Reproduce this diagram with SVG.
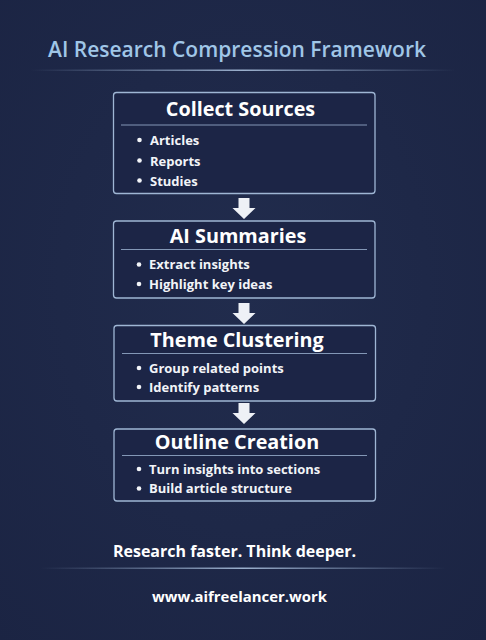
<svg xmlns="http://www.w3.org/2000/svg" width="486" height="640" viewBox="0 0 486 640">
<defs>
<radialGradient id="bg" cx="50%" cy="45%" r="75%">
<stop offset="0" stop-color="#212c4d"/>
<stop offset="1" stop-color="#1b2443"/>
</radialGradient>
<linearGradient id="rule" x1="0" x2="1" y1="0" y2="0">
<stop offset="0" stop-color="#8fa6c6" stop-opacity="0"/>
<stop offset="0.5" stop-color="#a9bfdc" stop-opacity="0.9"/>
<stop offset="1" stop-color="#8fa6c6" stop-opacity="0"/>
</linearGradient>
<style>
.box{fill:#1c2546;stroke:#9fb6d4;stroke-width:1.3}
.div{stroke:#8397b6;stroke-width:1}
.h{font-family:"Open Sans",Lato,sans-serif;font-weight:700;font-size:19.8px;fill:#ffffff;text-anchor:middle}
.b{font-family:"Open Sans",Lato,sans-serif;font-weight:700;font-size:13px;fill:#f2f4f8}
.dot{fill:#f2f4f8}
.arr{fill:#eef1f6}
</style>
</defs>
<rect width="486" height="640" fill="url(#bg)"/>
<text x="237" y="57" font-family="'Open Sans',Lato,sans-serif" font-weight="600" font-size="21" fill="#a0c6e7" text-anchor="middle">AI Research Compression Framework</text>
<rect x="30" y="69.5" width="426" height="1.5" fill="url(#rule)"/>

<g id="connectors">
<path class="arr" d="M238.5 198 h11 v10 h6 l-11.5 11 l-11.5 -11 h6 z"/>
<path class="arr" d="M238.5 303 h11 v10 h6 l-11.5 11 l-11.5 -11 h6 z"/>
<path class="arr" d="M238.5 403 h11 v10 h6 l-11.5 11 l-11.5 -11 h6 z"/>
</g>

<g id="collect">
<rect class="box" x="113.5" y="92.5" width="261.5" height="101" rx="3"/>
<text class="h" x="240.5" y="116">Collect Sources</text>
<line class="div" x1="121" y1="125" x2="367" y2="125"/>
<circle class="dot" cx="139.5" cy="140" r="2.3"/><text class="b" x="150" y="145">Articles</text>
<circle class="dot" cx="139.5" cy="160.5" r="2.3"/><text class="b" x="150" y="165.5">Reports</text>
<circle class="dot" cx="139.5" cy="180.5" r="2.3"/><text class="b" x="150" y="185.5">Studies</text>
</g>

<g id="summaries">
<rect class="box" x="113.5" y="221" width="261.5" height="77" rx="3"/>
<text class="h" x="238" y="243">AI Summaries</text>
<line class="div" x1="121" y1="249.5" x2="367" y2="249.5"/>
<circle class="dot" cx="139" cy="264.5" r="2.3"/><text class="b" x="149" y="269">Extract insights</text>
<circle class="dot" cx="139" cy="284" r="2.3"/><text class="b" x="149" y="288.5">Highlight key ideas</text>
</g>

<g id="clustering">
<rect class="box" x="114" y="325.5" width="261.5" height="75.5" rx="3"/>
<text class="h" x="237" y="346.5">Theme Clustering</text>
<line class="div" x1="122" y1="353.5" x2="367" y2="353.5"/>
<circle class="dot" cx="139" cy="368" r="2.3"/><text class="b" x="149" y="372.5">Group related points</text>
<circle class="dot" cx="139" cy="387" r="2.3"/><text class="b" x="149" y="391.5">Identify patterns</text>
</g>

<g id="outline">
<rect class="box" x="114" y="429" width="261.5" height="72" rx="3"/>
<text class="h" x="237" y="449">Outline Creation</text>
<line class="div" x1="122" y1="455.5" x2="367" y2="455.5"/>
<circle class="dot" cx="139" cy="469" r="2.3"/><text class="b" x="149" y="473.5">Turn insights into sections</text>
<circle class="dot" cx="139" cy="488.5" r="2.3"/><text class="b" x="149" y="493">Build article structure</text>
</g>

<text x="234.5" y="557" font-family="'Open Sans',Lato,sans-serif" font-weight="700" font-size="16" fill="#ffffff" text-anchor="middle">Research faster. Think deeper.</text>
<rect x="40" y="567.5" width="406" height="1.5" fill="url(#rule)"/>
<text x="239.5" y="602" font-family="'Open Sans',Lato,sans-serif" font-weight="700" font-size="14.9" fill="#ffffff" text-anchor="middle">www.aifreelancer.work</text>
</svg>
